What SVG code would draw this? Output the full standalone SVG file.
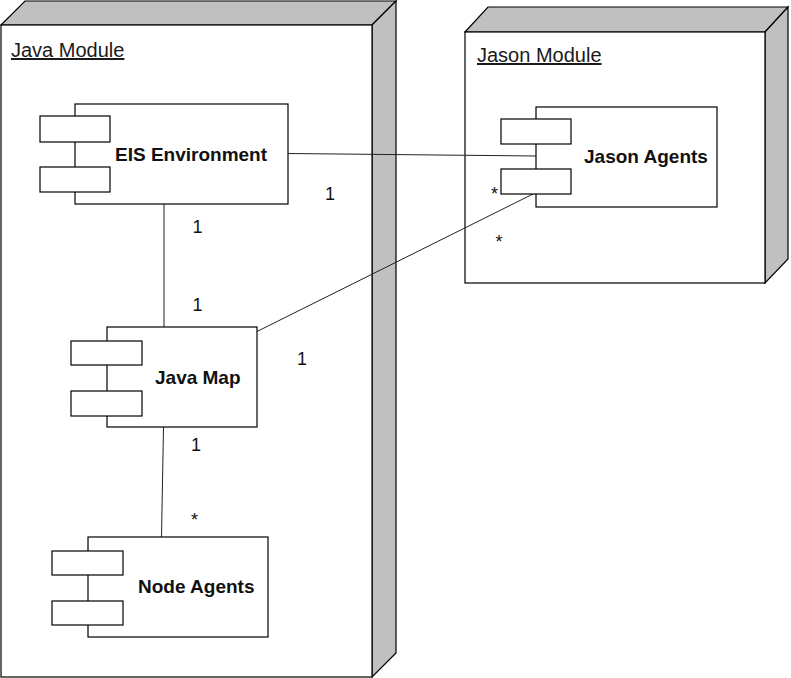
<svg xmlns="http://www.w3.org/2000/svg" width="791" height="678" viewBox="0 0 791 678">
<style>
.face{fill:#ffffff;stroke:#000;stroke-width:1.2}
.side{fill:#c0c0c0;stroke:#000;stroke-width:1.2}
.box{fill:#ffffff;stroke:#000;stroke-width:1.2}
.title{font-family:"Liberation Sans",Arial,sans-serif;font-size:20px;fill:#1a1a1a;text-decoration:underline}
.name{font-family:"Liberation Sans",Arial,sans-serif;font-size:19px;font-weight:bold;fill:#111}
.lbl{font-family:"Liberation Sans",Arial,sans-serif;font-size:18px;fill:#111;text-anchor:middle}
.conn{stroke:#222;stroke-width:1;fill:none}
</style>
<rect width="791" height="678" fill="#ffffff"/>
<g id="java-module">
<polygon class="side" points="1,25 25,1 396,1 372,25"/>
<polygon class="side" points="372,25 396,1 396,653 372,677"/>
<rect class="face" x="1" y="25" width="371" height="652"/>
<text class="title" x="11" y="57">Java Module</text>
</g>
<g id="jason-module">
<polygon class="side" points="465,32 488,7 788,7 765,32"/>
<polygon class="side" points="765,32 788,7 788,259 765,283"/>
<rect class="face" x="465" y="32" width="300" height="251"/>
<text class="title" x="477" y="62">Jason Module</text>
</g>
<g id="connectors">
<line class="conn" x1="288" y1="153.5" x2="536" y2="156"/>
<line class="conn" x1="257" y1="331.5" x2="533" y2="194"/>
<line class="conn" x1="164" y1="204" x2="164" y2="327"/>
<line class="conn" x1="163.5" y1="427" x2="161.5" y2="537"/>
</g>
<g id="eis-environment">
<rect class="box" x="75" y="104" width="213" height="100"/>
<rect class="box" x="40" y="116" width="70" height="26"/>
<rect class="box" x="40" y="167" width="70" height="25"/>
<text class="name" x="115" y="161">EIS Environment</text>
</g>
<g id="java-map">
<rect class="box" x="107" y="327" width="150" height="100"/>
<rect class="box" x="71" y="341" width="71" height="24"/>
<rect class="box" x="71" y="391" width="71" height="25"/>
<text class="name" x="155" y="384">Java Map</text>
</g>
<g id="node-agents">
<rect class="box" x="88" y="537" width="180" height="100"/>
<rect class="box" x="52" y="551" width="71" height="24"/>
<rect class="box" x="52" y="601" width="71" height="24"/>
<text class="name" x="138" y="593">Node Agents</text>
</g>
<g id="jason-agents">
<rect class="box" x="536" y="107" width="181" height="100"/>
<rect class="box" x="501" y="119" width="70" height="25"/>
<rect class="box" x="501" y="169" width="70" height="25"/>
<text class="name" x="584" y="163">Jason Agents</text>
</g>
<g id="labels">
<text class="lbl" x="330" y="200">1</text>
<text class="lbl" x="197.5" y="233">1</text>
<text class="lbl" x="197.5" y="311">1</text>
<text class="lbl" x="302" y="365">1</text>
<text class="lbl" x="196" y="451">1</text>
<text class="lbl" x="194.5" y="526">*</text>
<text class="lbl" x="494.5" y="200">*</text>
<text class="lbl" x="499" y="248">*</text>
</g>
</svg>
